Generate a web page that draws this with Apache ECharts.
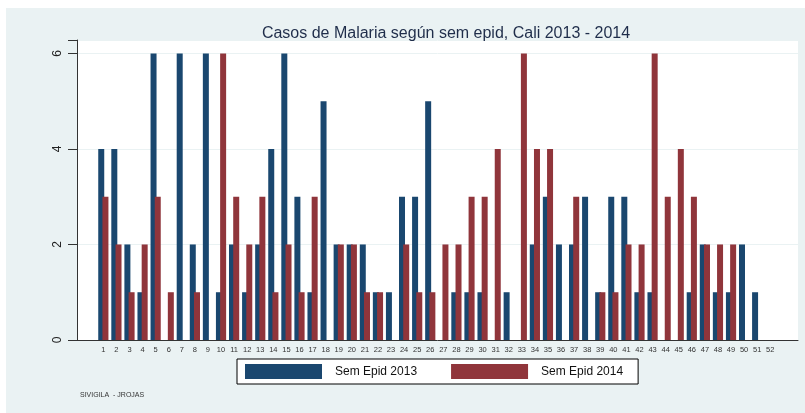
<!DOCTYPE html>
<html>
<head>
<meta charset="utf-8">
<script src="https://cdn.jsdelivr.net/npm/echarts@6/dist/echarts.min.js"></script>
<style>
  html, body { margin: 0; padding: 0; background: #fff; }
  #wrap { position: relative; width: 805px; height: 413px; }
  #bg { position: absolute; left: 6px; top: 8px; width: 799px; height: 405px; background: #eaf2f3; }
  #main { position: absolute; left: 0; top: 0; width: 805px; height: 413px; }
</style>
</head>
<body>
<div id="wrap">
  <div id="bg"></div>
  <div id="main"></div>
</div>
<script>
// semanas epidemiologicas 1..52
var semanas = [];
for (var i = 1; i <= 52; i++) semanas.push(String(i));

var casos2013 = [4, 4, 2, 1, 6, 0, 6, 2, 6, 1, 2, 1, 2, 4, 6, 3, 1, 5, 2, 2,
  2, 1, 1, 3, 3, 5, 0, 1, 1, 1, 0, 1, 0, 2, 3, 2, 2, 3, 1, 3,
  3, 1, 1, 0, 0, 1, 2, 1, 1, 2, 1, 0];
var casos2014 = [3, 2, 1, 2, 3, 1, 0, 1, 0, 6, 3, 2, 3, 1, 2, 1, 3, 0, 2, 2,
  1, 1, 0, 2, 1, 1, 2, 2, 3, 3, 4, 0, 6, 4, 4, 0, 3, 0, 1, 1,
  2, 2, 6, 3, 4, 3, 2, 2, 2, 0, 0, 0];
var yTicks = [0, 2, 4, 6];

var chartDom = document.getElementById("main");
var myChart = echarts.init(chartDom);
var option;

var yMax = 6.28; // el 6 queda un poco por debajo del borde superior

option = {
  backgroundColor: "transparent",
  textStyle: { fontFamily: "Liberation Sans, Arial, sans-serif" },
  title: {
    text: "Casos de Malaria según sem epid, Cali 2013 - 2014",
    left: 441,
    top: 21,
    textAlign: "center",
    textStyle: { fontSize: 16, fontWeight: "normal", color: "#1f2d4a" },
  },
  legend: {
    data: ["Sem Epid 2013", "Sem Epid 2014"],
    left: 237,
    top: 359,
    icon: "rect",
    itemWidth: 77,
    itemHeight: 15,
    itemGap: 34,
    padding: [5, 15, 5, 8],
    borderColor: "#000",
    borderWidth: 1,
    backgroundColor: "#fff",
    textStyle: { fontSize: 12, color: "#111", padding: [0, 0, 0, 8] },
  },
  grid: [
    // fondo blanco + ejes
    { left: 77, right: 7, top: 40, bottom: 73, show: true, backgroundColor: "#fff", borderWidth: 0 },
    // barras
    { left: 96.8, width: 680, top: 40, bottom: 73 },
  ],
  xAxis: [
    {
      gridIndex: 0,
      type: "value",
      min: 0,
      max: 1,
      axisLine: { show: true, lineStyle: { color: "#333", width: 1 } },
      axisTick: { show: false },
      axisLabel: { show: false },
      splitLine: { show: false },
    },
    {
      gridIndex: 1,
      type: "category",
      data: semanas,
      axisLine: { show: false },
      axisTick: { show: false },
      axisLabel: { fontSize: 7.5, color: "#333", margin: 6, interval: 0 },
    },
  ],
  yAxis: [
    {
      gridIndex: 0,
      type: "value",
      min: 0,
      max: yMax,
      interval: 2,
      axisLine: { show: true, lineStyle: { color: "#333", width: 1 } },
      axisTick: { show: true, length: 9, lineStyle: { color: "#333" } },
      axisLabel: {
        rotate: 90,
        fontSize: 12,
        color: "#222",
        margin: 13,
        formatter: function (v) {
          return yTicks.indexOf(v) >= 0 ? String(v) : "";
        },
      },
      splitLine: { show: true, lineStyle: { color: "#eaf2f3", width: 1 } },
    },
    { gridIndex: 1, type: "value", min: 0, max: yMax, show: false },
  ],
  series: [
    {
      name: "Sem Epid 2013",
      type: "bar",
      xAxisIndex: 1,
      yAxisIndex: 1,
      data: casos2013,
      barWidth: 6,
      barGap: "-30%",
      itemStyle: { color: "#1a476f" },
    },
    {
      name: "Sem Epid 2014",
      type: "bar",
      xAxisIndex: 1,
      yAxisIndex: 1,
      data: casos2014,
      barWidth: 6,
      barGap: "-30%",
      itemStyle: { color: "#90353b" },
    },
  ],
  graphic: [
    {
      type: "text",
      left: 80,
      top: 392,
      style: { text: "SIVIGILA  - JROJAS", fontSize: 7, fill: "#333", fontFamily: "Liberation Sans, Arial, sans-serif" },
    },
  ],
};

option && myChart.setOption(option);
</script>
</body>
</html>
